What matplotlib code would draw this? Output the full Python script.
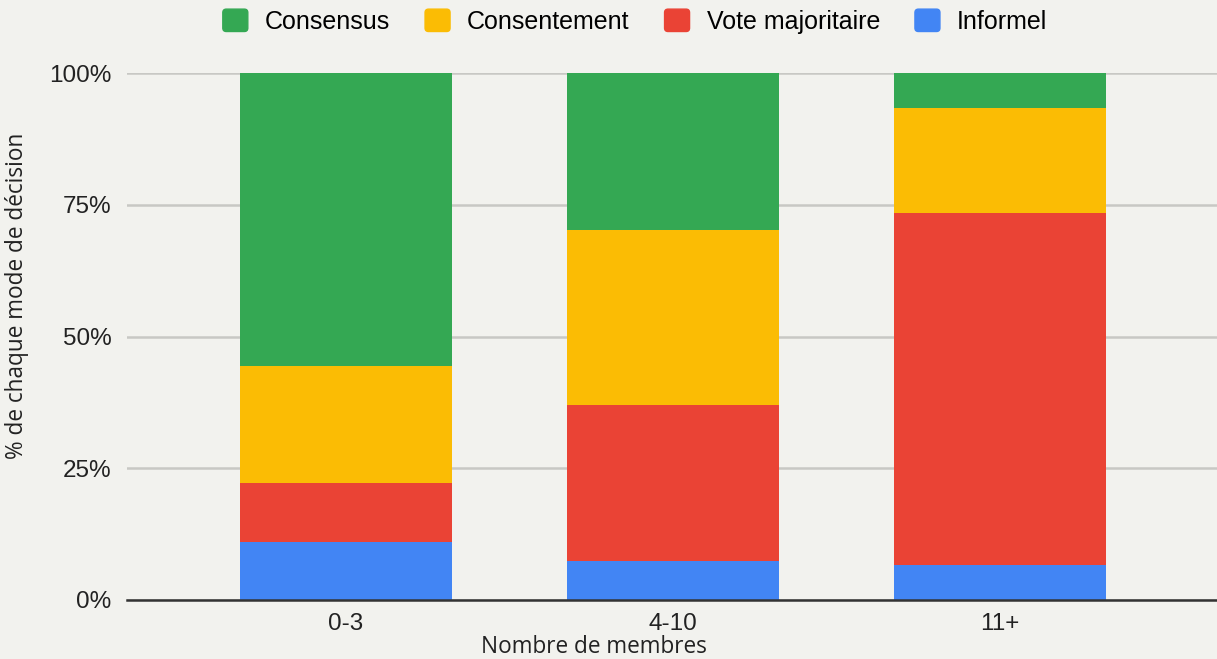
import matplotlib.pyplot as plt
import matplotlib.patches as mpatches
from matplotlib.legend_handler import HandlerPatch
import numpy as np
from matplotlib.ticker import PercentFormatter

groupes = ["0-3", "4-10", "11+"]
modes = ["Consensus", "Consentement", "Vote majoritaire", "Informel"]
couleurs = ["#34a853", "#fbbc04", "#ea4335", "#4285f4"]

informel = [11.1, 7.4, 6.7]
vote = [11.1, 29.6, 66.7]
consentement = [22.2, 33.3, 20.0]
consensus = [55.6, 29.7, 6.6]

fond = "#f2f2ee"
plt.rcParams["font.family"] = ["Liberation Sans", "DejaVu Sans"]

fig = plt.figure(figsize=(12.17, 6.59), dpi=100, facecolor=fond)
ax = fig.add_axes([127 / 1217, 1 - 600 / 659, 1 - 127 / 1217, (600 - 73) / 659])
ax.set_facecolor(fond)

x = np.arange(len(groupes))
largeur = 0.648
series = [informel, vote, consentement, consensus]
noms = ["Informel", "Vote majoritaire", "Consentement", "Consensus"]
cols = ["#4285f4", "#ea4335", "#fbbc04", "#34a853"]
bas = np.zeros(len(groupes))
for vals, nom, c in zip(series, noms, cols):
    ax.bar(x, vals, largeur, bottom=bas, color=c, label=nom, zorder=3)
    bas += np.array(vals)

ax.set_xlim(-0.67, 2.664)
ax.set_ylim(0, 100)
ax.set_yticks([0, 25, 50, 75, 100])
ax.yaxis.set_major_formatter(PercentFormatter(decimals=0))
ax.grid(axis="y", color="#c8c8c4", linewidth=1.8, zorder=0)
ax.set_axisbelow(True)
for s in ["top", "right", "left"]:
    ax.spines[s].set_visible(False)
ax.spines["bottom"].set_color("#333333")
ax.spines["bottom"].set_linewidth(1.8)
ax.spines["bottom"].set_zorder(4)
ax.set_xticks(x)
ax.set_xticklabels(groupes)
ax.tick_params(axis="both", length=0, labelsize=17.5, colors="#222222")
ax.tick_params(axis="y", pad=11)
ax.tick_params(axis="x", pad=9)

police_titre = ["Open Sans", "DejaVu Sans"]
fig.text(17 / 1217, 1 - 296 / 659, "% de chaque mode de décision", rotation=90,
         ha="center", va="center", fontsize=16.3, family=police_titre, color="#222222")
fig.text(594 / 1217, 1 - 647 / 659, "Nombre de membres", ha="center", va="center",
         fontsize=16.3, family=police_titre, color="#222222")


def carre_rond(legend, orig_handle, xdescent, ydescent, width, height, fontsize):
    return mpatches.FancyBboxPatch((-xdescent, -ydescent), width, height,
                                   boxstyle="round,pad=0,rounding_size=2.5")


handles = [mpatches.Patch(color=c) for c in couleurs]
fig.legend(handles, modes, loc="center", bbox_to_anchor=(635 / 1217, 1 - 21.5 / 659), ncol=4,
           frameon=False, fontsize=18, handlelength=1.0, handleheight=1.0,
           columnspacing=1.4, handletextpad=0.68,
           handler_map={mpatches.Patch: HandlerPatch(patch_func=carre_rond)})

fig.savefig("out.png", dpi=100, facecolor=fond)
